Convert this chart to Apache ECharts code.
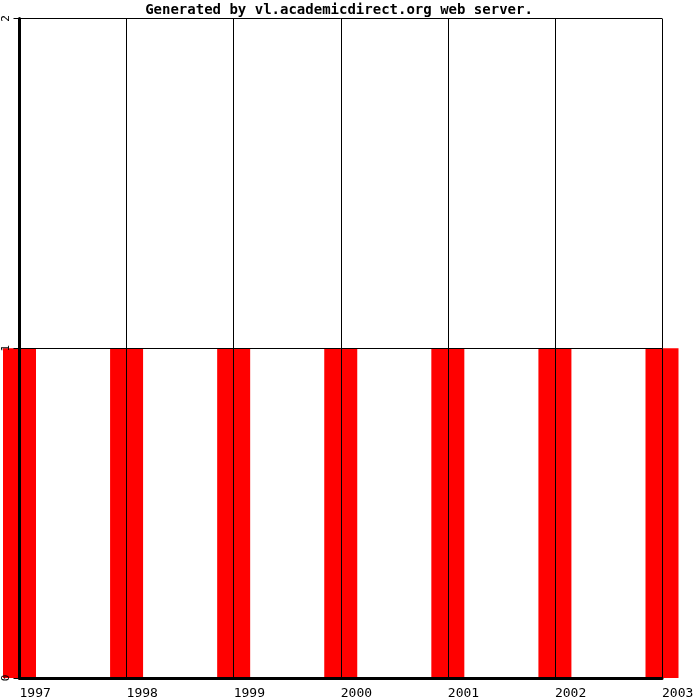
<!DOCTYPE html>
<html>
<head>
<meta charset="utf-8">
<script src="https://cdn.jsdelivr.net/npm/echarts@6/dist/echarts.min.js"></script>
<style>html,body{margin:0;padding:0;background:#fff;}#c{width:700px;height:700px;}</style>
</head>
<body>
<div id="c"></div>
<script>
var titleText = 'Generated by vl.academicdirect.org web server.';
var years = [1997, 1998, 1999, 2000, 2001, 2002, 2003];
var counts = [1, 1, 1, 1, 1, 1, 1];
var yTicks = [0, 1, 2];

var chart = echarts.init(document.getElementById('c'), null, {renderer: 'canvas'});
var mono = 'DejaVu Sans Mono';
chart.setOption({
  animation: false,
  backgroundColor: '#ffffff',
  title: {
    text: titleText,
    left: 339, top: 3, padding: 0, textAlign: 'center',
    textStyle: {fontFamily: mono, fontSize: 14, fontWeight: 'bold', color: '#000'}
  },
  grid: {left: 19.5, right: 38, top: 18.5, bottom: 19},
  xAxis: {
    type: 'value', min: years[0], max: years[years.length - 1], interval: 1, z: 5,
    axisLine: {show: true, onZero: false, lineStyle: {color: '#000', width: 3}},
    axisTick: {show: false},
    splitLine: {show: true, lineStyle: {color: '#000', width: 1}},
    axisLabel: {
      fontFamily: mono, fontSize: 13, color: '#000', margin: 9, align: 'left',
      formatter: function (v) { return String(v); }
    }
  },
  yAxis: {
    type: 'value', min: yTicks[0], max: yTicks[yTicks.length - 1], interval: 1, z: 5,
    axisLine: {show: true, lineStyle: {color: '#000', width: 3}},
    axisTick: {show: true, length: 6, lineStyle: {color: '#000', width: 1}},
    splitLine: {show: true, lineStyle: {color: '#000', width: 1}},
    axisLabel: {fontFamily: mono, fontSize: 11, color: '#000', rotate: 90, margin: 8}
  },
  series: [{
    type: 'bar',
    data: years.map(function (y, i) { return [y, counts[i]]; }),
    barWidth: 33,
    itemStyle: {color: '#ff0000'},
    z: 1
  }]
});
</script>
</body>
</html>
